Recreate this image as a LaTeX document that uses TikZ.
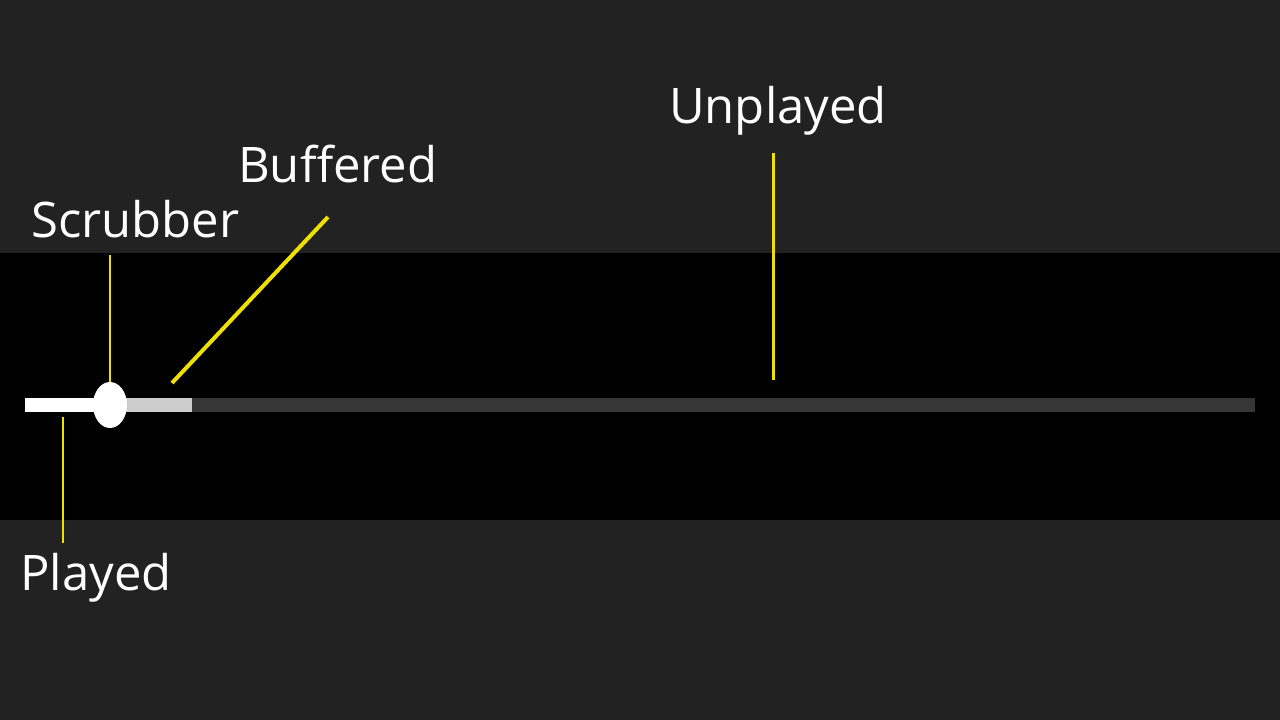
\documentclass[tikz,border=0pt]{standalone}
\usepackage{fontspec}
\setmainfont{Open Sans}
\usetikzlibrary{shapes.geometric}
\definecolor{bgc}{RGB}{34,34,34}
\definecolor{unpl}{RGB}{54,54,54}
\definecolor{buff}{RGB}{204,204,204}
\definecolor{ylw}{RGB}{240,224,0}
\begin{document}
\begin{tikzpicture}[x=1pt,y=-1pt,
  lbl/.style={anchor=base west,inner sep=0pt,text=white,font=\fontsize{49}{57}\selectfont},
  lead/.style={draw=ylw,line width=2pt}]
\fill[bgc] (0,0) rectangle (1280,720);
\useasboundingbox (0,0) rectangle (1280,720);
\fill[black] (0,253) rectangle (1280,520);
% track
\fill[unpl] (192,398) rectangle (1255,412);
\fill[buff] (110,398) rectangle (192,412);
\fill[white] (25,398) rectangle (110,412);
\node[draw=none,fill=white,ellipse,minimum width=34pt,minimum height=46pt,inner sep=0pt] (scrub) at (110,405) {};
% labels
\node[lbl] (tU) at (669,123) {Unplayed};
\node[lbl] (tB) at (238,182) {Buffered};
\node[lbl] (tS) at (31,237) {Scrubber};
\node[lbl] (tP) at (20,590) {Played};
% leaders
\coordinate (uA) at (773,153); \coordinate (uB) at (773,380);
\coordinate (bA) at (328,217); \coordinate (bB) at (172,383);
\coordinate (sA) at (110,255);
\coordinate (pA) at (63,417); \coordinate (pB) at (63,543);
\draw[lead,line width=3pt] (uA) -- (uB);
\draw[lead,line width=4pt] (bA) -- (bB);
\draw[lead,line width=1.5pt] (sA) -- (scrub.north);
\draw[lead,line width=1.5pt] (pA) -- (pB);
\end{tikzpicture}
\end{document}
